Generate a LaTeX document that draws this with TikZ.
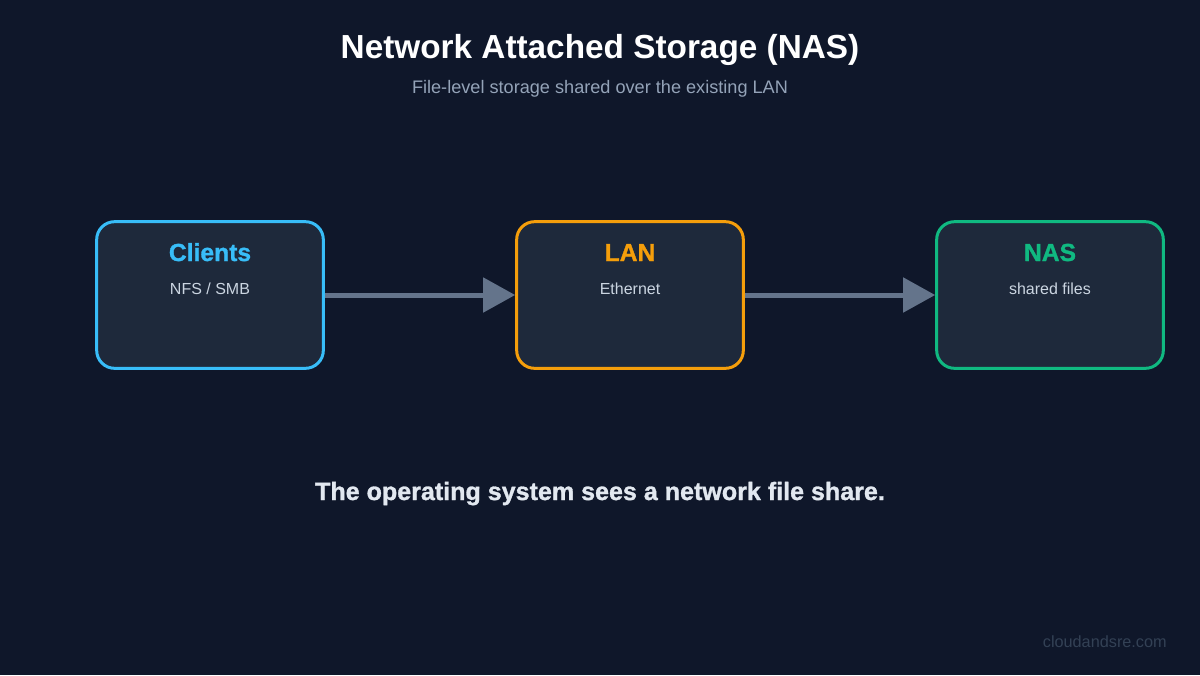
\documentclass[tikz,border=0pt]{standalone}
\usepackage{fontspec}
\setmainfont{Liberation Sans}
\newfontfamily\heavyfont{Liberation Sans}[BoldFeatures={FakeBold=1.2}]
\usetikzlibrary{arrows.meta}
\definecolor{bg}{HTML}{0F172A}
\definecolor{boxfill}{HTML}{1E293B}
\definecolor{cclients}{HTML}{38BDF8}
\definecolor{clan}{HTML}{F59E0B}
\definecolor{cnas}{HTML}{10B981}
\definecolor{carrow}{HTML}{64748B}
\definecolor{csub}{HTML}{94A3B8}
\definecolor{cnote}{HTML}{CBD5E1}
\definecolor{ccap}{HTML}{E2E8F0}
\definecolor{cmark}{HTML}{334155}

\begin{document}
\begin{tikzpicture}[x=0.75pt,y=-0.75pt,
  box/.style={draw,line width=2.25pt,fill=boxfill,rounded corners=13.5pt,
    minimum width=170pt,minimum height=110pt},
  head/.style={anchor=base,font=\heavyfont\bfseries\fontsize{18.5}{20}\selectfont},
  note/.style={anchor=base,text=cnote,font=\fontsize{12}{14}\selectfont},
  flow/.style={draw=carrow,line width=3.75pt,
    -{Triangle[length=24pt,width=25.5pt,fill=carrow]}}]
\fill[bg] (0,0) rectangle (1200,675);
\node[anchor=base,text=white,font=\bfseries\fontsize{25}{28}\selectfont] (title) at (600,58) {Network Attached Storage (NAS)};
\node[anchor=base,text=csub,font=\fontsize{13.6}{15}\selectfont] (subtitle) at (600,93) {File-level storage shared over the existing LAN};
% the three boxes
\node[box,draw=cclients] (clients) at (210,295) {};
\node[box,draw=clan] (lan) at (630,295) {};
\node[box,draw=cnas] (nas) at (1050,295) {};
\node[head,text=cclients] (clientsT) at (210,261) {Clients};
\node[note] (clientsN) at (210,294) {NFS / SMB};
\node[head,text=clan] (lanT) at (630,261) {LAN};
\node[note] (lanN) at (630,294) {Ethernet};
\node[head,text=cnas] (nasT) at (1050,261) {NAS};
\node[note] (nasN) at (1050,294) {shared files};
% connectors
\draw[flow] (clients.east) -- (lan.west);
\draw[flow] (lan.east) -- (nas.west);
\node[anchor=base,text=ccap,font=\heavyfont\bfseries\fontsize{18.8}{20}\selectfont] (caption) at (600,500) {The operating system sees a network file share.};
\node[anchor=base east,inner sep=0pt,text=cmark,font=\fontsize{12.2}{14}\selectfont] (mark) at (1167,647) {cloudandsre.com};
\end{tikzpicture}
\end{document}
